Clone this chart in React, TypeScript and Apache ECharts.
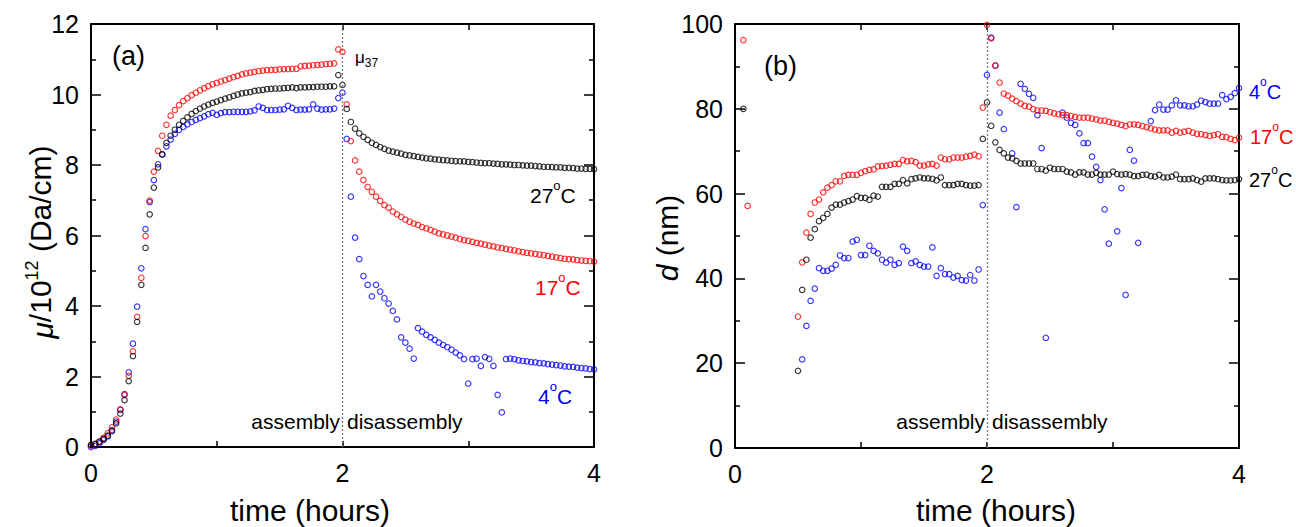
import { useEffect, useRef } from "react";
import * as echarts from "echarts";

const N = null;

// sampling times (minutes)
const MINUTES = [
  0, 2, 4, 6, 8, 10, 12, 14, 16, 18, 20, 22, 24, 26, 28, 30, 32, 34, 36, 38,
  40, 42, 44, 46, 48, 50, 52, 54, 56, 58, 60, 62, 64, 66, 68, 70, 72, 74, 76, 78,
  80, 82, 84, 86, 88, 90, 92, 94, 96, 98, 100, 102, 104, 106, 108, 110, 112, 114, 116, 118,
  120, 122, 124, 126, 128, 130, 132, 134, 136, 138, 140, 142, 144, 146, 148, 150, 152, 154, 156, 158,
  160, 162, 164, 166, 168, 170, 172, 174, 176, 178, 180, 182, 184, 186, 188, 190, 192, 194, 196, 198,
  200, 202, 204, 206, 208, 210, 212, 214, 216, 218, 220, 222, 224, 226, 228, 230, 232, 234, 236, 238,
  240,
];

// panel (a): mu / 10^12 (Da/cm)
const MU_27C = [
  0.06, 0.09, 0.15, 0.23, 0.32, 0.45, 0.67, 0.95, 1.33, 1.87,
  2.58, 3.55, 4.6, 5.65, 6.6, 7.36, 7.93, 8.3, 8.63, 8.83,
  9.0, 9.14, 9.25, 9.35, 9.45, 9.53, 9.6, 9.66, 9.71, 9.76,
  9.8, 9.84, 9.88, 9.92, 9.96, 10.0, 10.03, 10.05, 10.07, 10.1,
  10.12, 10.13, 10.15, 10.16, 10.17, 10.17, 10.18, 10.19, 10.2, 10.18,
  10.2, 10.2, 10.21, 10.21, 10.22, 10.22, 10.22, 10.23, 10.23, 10.55,
  10.27, 9.59, 9.22, 9.03, 8.9, 8.8, 8.71, 8.63, 8.57, 8.51,
  8.46, 8.41, 8.38, 8.35, 8.32, 8.29, 8.27, 8.25, 8.23, 8.21,
  8.19, 8.18, 8.16, 8.15, 8.14, 8.13, 8.12, 8.11, 8.1, 8.1,
  8.09, 8.08, 8.07, 8.06, 8.05, 8.05, 8.04, 8.03, 8.02, 8.02,
  8.01, 8.0, 8.0, 7.99, 7.98, 7.98, 7.97, 7.96, 7.95, 7.95,
  7.94, 7.93, 7.93, 7.92, 7.92, 7.91, 7.9, 7.9, 7.89, 7.89,
  7.88,
];
const MU_17C = [
  0.04, 0.08, 0.15, 0.26, 0.39, 0.56, 0.78, 1.07, 1.48, 2.02,
  2.71, 3.69, 4.8, 5.98, 6.99, 7.81, 8.4, 8.83, 9.14, 9.4,
  9.56, 9.7, 9.81, 9.9, 9.98, 10.05, 10.12, 10.18, 10.24, 10.29,
  10.33, 10.37, 10.41, 10.45, 10.49, 10.53, 10.57, 10.6, 10.62, 10.64,
  10.66, 10.68, 10.69, 10.7, 10.7, 10.71, 10.72, 10.72, 10.73, 10.73,
  10.8, 10.81, 10.82, 10.83, 10.84, 10.85, 10.86, 10.87, 10.88, 11.28,
  11.21, 9.72, 8.68, 8.13, 7.81, 7.57, 7.38, 7.24, 7.1, 6.98,
  6.86, 6.79, 6.68, 6.6, 6.53, 6.45, 6.39, 6.34, 6.3, 6.24,
  6.2, 6.16, 6.11, 6.06, 6.03, 6.0, 5.97, 5.94, 5.9, 5.87,
  5.85, 5.82, 5.79, 5.77, 5.74, 5.71, 5.69, 5.66, 5.64, 5.62,
  5.6, 5.58, 5.55, 5.53, 5.51, 5.49, 5.48, 5.46, 5.44, 5.42,
  5.4, 5.38, 5.36, 5.34, 5.33, 5.32, 5.3, 5.29, 5.28, 5.27,
  5.26,
];
const MU_4C = [
  0.0, 0.03, 0.1, 0.2, 0.3, 0.48, 0.72, 1.05, 1.5, 2.12,
  2.93, 3.98, 5.07, 6.18, 6.95, 7.57, 8.02, 8.3, 8.53, 8.72,
  8.88, 9.0, 9.08, 9.15, 9.22, 9.28, 9.33, 9.38, 9.44, 9.48,
  9.42, 9.47, 9.5, 9.5, 9.51, 9.51, 9.51, 9.51, 9.52, 9.55,
  9.66, 9.62, 9.56, 9.56, 9.56, 9.57, 9.58, 9.68, 9.62, 9.56,
  9.57, 9.57, 9.58, 9.72, 9.6, 9.57, 9.58, 9.58, 9.6, 9.9,
  10.05, 8.74, 7.1, 5.94, 5.33, 4.85, 4.6, 4.27, 4.6, 4.41,
  4.22, 4.07, 3.86, 3.62, 3.11, 2.96, 2.79, 2.51, 3.37, 3.27,
  3.18, 3.11, 3.04, 2.96, 2.9, 2.83, 2.76, 2.68, 2.6, 2.49,
  1.8, 2.49, 2.51, 2.3, 2.55, 2.5, 2.3, 1.48, 0.98, 2.49,
  2.51, 2.49, 2.46, 2.44, 2.43, 2.41, 2.4, 2.38, 2.37, 2.35,
  2.34, 2.32, 2.31, 2.29, 2.28, 2.27, 2.25, 2.24, 2.23, 2.21,
  2.2,
];

// panel (b): d (nm)
const D_27C = [
  N, N, 80.0, N, N, N, N, N, N, N,
  N, N, N, N, N, 18.2, 37.3, 44.4, 49.6, 51.6,
  53.5, 54.3, 55.2, 56.7, 57.4, 57.4, 57.9, 58.2, 58.6, 59.4,
  59.0, 59.0, 58.5, 59.5, 59.3, 61.6, 61.6, 61.6, 62.3, 62.3,
  63.2, 62.4, 63.4, 63.6, 63.8, 63.6, 63.6, 63.5, 63.1, 63.8,
  62.0, 62.0, 62.0, 62.3, 62.3, 62.0, 61.9, 61.9, 62.0, 72.9,
  81.5, 76.0, 72.1, 70.3, 69.5, 68.5, 68.3, 67.7, 67.1, 67.1,
  67.1, 67.1, 65.8, 65.8, 65.4, 66.1, 65.8, 65.8, 65.8, 65.2,
  65.0, 64.5, 65.0, 65.0, 64.5, 64.5, 64.9, 64.5, 64.5, 64.5,
  65.2, 64.6, 64.5, 64.6, 64.5, 64.1, 64.1, 64.4, 64.5, 64.1,
  64.0, 64.4, 63.8, 63.8, 64.0, 64.5, 63.4, 63.4, 63.4, 63.6,
  63.2, 62.8, 63.6, 63.6, 63.6, 63.4, 63.2, 63.1, 63.1, 63.2,
  63.4,
];
const D_17C = [
  N, N, 96.2, 57.1, N, N, N, N, N, N,
  N, N, N, N, N, 31.0, 43.8, 50.8, 55.2, 57.9,
  58.6, 60.3, 61.4, 62.0, 62.9, 62.9, 64.2, 64.4, 64.4, 64.4,
  64.9, 65.3, 65.6, 65.7, 66.4, 66.5, 66.6, 66.8, 67.0, 67.0,
  67.9, 67.6, 67.7, 67.4, 66.6, 66.6, 66.9, 67.0, 66.6, 68.5,
  68.1, 68.1, 68.5, 68.5, 68.5, 68.7, 68.9, 69.2, 68.8, 80.3,
  99.8, 96.6, 90.2, 86.2, 83.6, 83.1, 82.4, 81.8, 81.2, 80.7,
  80.5, 79.9, 79.6, 79.6, 79.5, 79.2, 78.9, 78.7, 78.5, 78.5,
  78.3, 78.1, 77.9, 77.9, 77.9, 77.7, 77.5, 77.2, 77.2, 76.9,
  76.7, 76.5, 76.2, 75.9, 76.3, 76.3, 76.2, 75.9, 75.7, 75.4,
  75.1, 74.9, 74.9, 74.9, 74.4, 74.8, 74.4, 74.6, 74.8, 74.4,
  74.1, 74.0, 73.8, 73.6, 73.8, 74.0, 73.4, 73.3, 72.9, 72.6,
  73.2,
];
const D_4C = [
  N, N, N, N, N, N, N, N, N, N,
  N, N, N, N, N, N, 20.9, 28.8, 34.7, 37.6,
  42.4, 41.8, 41.8, 42.3, 43.2, 45.4, 44.8, 44.8, 48.7, 49.1,
  45.5, 45.5, 47.7, 46.5, 45.9, 44.4, 43.7, 44.4, 43.2, 43.6,
  47.5, 46.5, 43.6, 44.0, 43.2, 42.8, 42.8, 47.3, 40.6, 42.4,
  41.0, 41.0, 40.2, 40.6, 39.6, 39.5, 40.8, 39.5, 42.1, 57.3,
  88.0, 96.8, 90.2, 79.1, 75.2, N, 69.5, 56.8, 85.9, 84.7,
  83.5, 82.6, 78.5, 70.7, 26.0, N, N, N, 79.1, 77.9,
  76.7, 76.2, 74.2, 71.9, 71.9, 68.7, 66.3, 63.2, 56.3, 48.2,
  N, 51.1, 61.3, 36.1, 70.3, 67.8, 48.4, N, N, 77.1,
  79.7, 81.0, 79.8, 79.8, 80.8, 82.0, 80.8, 80.8, 80.6, 80.6,
  81.0, 81.9, 81.6, 81.2, 81.2, 81.2, 83.2, 82.3, 82.8, 83.7,
  84.9,
];

const SWITCH_TIME = 2; // hours: assembly -> disassembly
const X_TICKS = { min: 0, max: 4, interval: 2 };
const Y_A = { min: 0, max: 12, interval: 2 };
const Y_B = { min: 0, max: 100, interval: 20 };

const RED = "#ff0000";
const BLUE = "#0000ff";
const BLACK = "#000000";
const FONT = "'Liberation Sans', Arial, Helvetica, sans-serif";

function pairs(vals: (number | null)[]) {
  const out: number[][] = [];
  MINUTES.forEach((m, i) => {
    const v = vals[i];
    if (v !== null && v !== undefined) out.push([m / 60, v]);
  });
  return out;
}

function scatter(color: string, vals: (number | null)[], xi: number, yi: number, withLine: boolean) {
  const s: any = {
    type: "scatter",
    xAxisIndex: xi,
    yAxisIndex: yi,
    data: pairs(vals),
    symbol: "circle",
    symbolSize: 5.5,
    clip: false,
    silent: true,
    itemStyle: { color: "rgba(255,255,255,0)", borderColor: color, borderWidth: 1.15 },
  };
  if (withLine) {
    s.markLine = {
      silent: true,
      symbol: ["none", "none"],
      label: { show: false },
      lineStyle: { color: "#7a7a7a", type: [2, 2], width: 1.3 },
      data: [{ xAxis: SWITCH_TIME }],
    };
  }
  return s;
}

function xAxis(grid: number, pos: "bottom" | "top") {
  return {
    type: "value",
    gridIndex: grid,
    position: pos,
    ...X_TICKS,
    axisLine: { show: true, onZero: false, lineStyle: { color: "#000", width: 2 } },
    axisTick: { show: true, inside: true, length: 6, lineStyle: { color: "#000", width: 1.5 } },
    minorTick: { show: true, splitNumber: 2, length: 6, lineStyle: { color: "#000", width: 1.5 } },
    splitLine: { show: false },
    axisLabel: { show: pos === "bottom", fontSize: 25, color: "#000", fontFamily: FONT, margin: 13 },
  };
}

function yAxis(grid: number, pos: "left" | "right", range: any) {
  return {
    type: "value",
    gridIndex: grid,
    position: pos,
    ...range,
    axisLine: { show: true, onZero: false, lineStyle: { color: "#000", width: 2 } },
    axisTick: { show: true, inside: true, length: 10, lineStyle: { color: "#000", width: 1.5 } },
    minorTick: { show: true, splitNumber: 2, length: 5, lineStyle: { color: "#000", width: 1.5 } },
    splitLine: { show: false },
    axisLabel: { show: pos === "left", fontSize: 25, color: "#000", fontFamily: FONT, margin: 12 },
  };
}

function txt(x: number, y: number, text: string, size: number, color: string, align: string, extra: any = {}) {
  return {
    type: "text",
    x,
    y,
    silent: true,
    ...extra,
    style: {
      text,
      fill: color,
      fontSize: size,
      fontFamily: FONT,
      align,
      verticalAlign: "middle",
      textAlign: align,
      textVerticalAlign: "middle",
      ...(extra.styleExtra || {}),
    },
  };
}

function temp(x: number, y: number, deg: string, color: string, size: number) {
  return txt(x, y, `{n|${deg}}{s|o}{n|C}`, size, color, "left", {
    styleExtra: {
      rich: {
        n: { fontSize: size, fontFamily: FONT, fill: color, color, lineHeight: size + 6, verticalAlign: "bottom" },
        s: { fontSize: Math.round(size * 0.62), fontFamily: FONT, fill: color, color, verticalAlign: "top", lineHeight: 12 },
      },
    },
  });
}

export default function App() {
  const ref = useRef<HTMLDivElement>(null);
  useEffect(() => {
    if (!ref.current) return;
    const chart = echarts.init(ref.current, undefined, { renderer: "svg" });
    chart.setOption({
      animation: false,
      backgroundColor: "#ffffff",
      grid: [
        { left: 91, top: 24, width: 503, height: 423 },
        { left: 735, top: 24, width: 504, height: 424 },
      ],
      xAxis: [xAxis(0, "bottom"), xAxis(0, "top"), xAxis(1, "bottom"), xAxis(1, "top")],
      yAxis: [yAxis(0, "left", Y_A), yAxis(0, "right", Y_A), yAxis(1, "left", Y_B), yAxis(1, "right", Y_B)],
      series: [
        scatter(BLUE, MU_4C, 0, 0, true),
        scatter(RED, MU_17C, 0, 0, false),
        scatter(BLACK, MU_27C, 0, 0, false),
        scatter(BLUE, D_4C, 2, 2, true),
        scatter(RED, D_17C, 2, 2, false),
        scatter(BLACK, D_27C, 2, 2, false),
      ],
      graphic: [
        txt(112, 56, "(a)", 27, "#000", "left"),
        txt(764, 66, "(b)", 27, "#000", "left"),
        txt(355, 59, "{m|\u03bc}{b|37}", 17, "#000", "left", {
          styleExtra: {
            rich: {
              m: { fontSize: 17, fontFamily: FONT, fill: "#000", color: "#000", verticalAlign: "top", lineHeight: 20 },
              b: { fontSize: 12, fontFamily: FONT, fill: "#000", color: "#000", verticalAlign: "bottom", lineHeight: 20 },
            },
          },
        }),
        txt(340, 421, "assembly", 21, "#000", "right"),
        txt(347, 421, "disassembly", 21, "#000", "left"),
        txt(985, 421, "assembly", 21, "#000", "right"),
        txt(992, 421, "disassembly", 21, "#000", "left"),
        temp(530, 192, "27", BLACK, 21),
        temp(535, 284, "17", RED, 21),
        temp(538, 393, "4", BLUE, 21),
        temp(1249, 89, "4", BLUE, 20),
        temp(1250, 134, "17", RED, 20),
        temp(1249, 177, "27", BLACK, 20),
        txt(310, 510, "time (hours)", 30, "#000", "center"),
        txt(996, 510, "time (hours)", 30, "#000", "center"),
        txt(40, 242, "{i|\u03bc}/10{s|12} (Da/cm)", 30, "#000", "center", {
          rotation: Math.PI / 2,
          styleExtra: {
            rich: {
              i: { fontSize: 30, fontFamily: FONT, fontStyle: "italic", fill: "#000", color: "#000", lineHeight: 35, verticalAlign: "bottom" },
              s: { fontSize: 18, fontFamily: FONT, fill: "#000", color: "#000", lineHeight: 35, verticalAlign: "top" },
            },
          },
        }),
        txt(667, 238, "{i|d} (nm)", 30, "#000", "center", {
          rotation: Math.PI / 2,
          styleExtra: {
            rich: {
              i: { fontSize: 30, fontFamily: FONT, fontStyle: "italic", fill: "#000", color: "#000" },
            },
          },
        }),
      ],
    });
    return () => chart.dispose();
  }, []);
  return <div ref={ref} style={{ position: "absolute", left: 0, top: 0, width: 1296, height: 527 }} />;
}
